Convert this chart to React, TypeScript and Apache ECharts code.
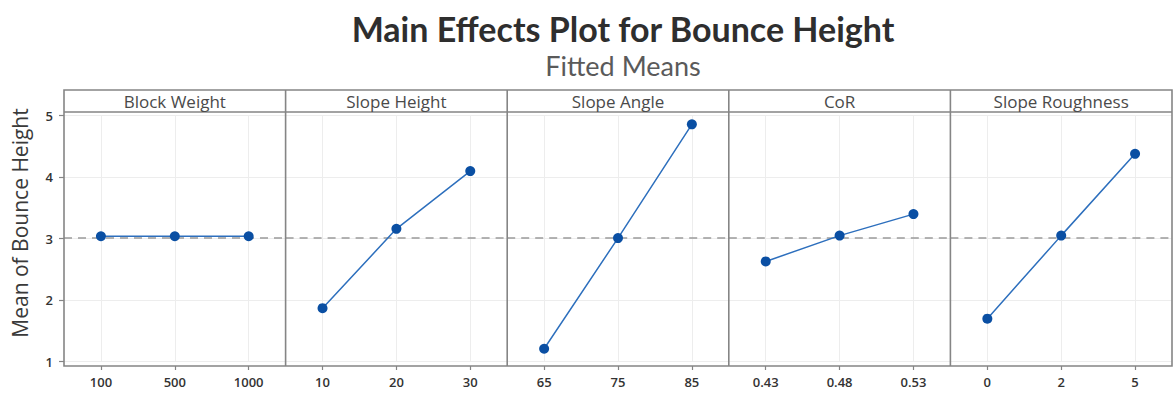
import React, { useEffect, useRef } from "react";
import * as echarts from "echarts";

const factors = ["Block Weight", "Slope Height", "Slope Angle", "CoR", "Slope Roughness"];
const levelsBlockWeight = ["100", "500", "1000"];
const levelsSlopeHeight = ["10", "20", "30"];
const levelsSlopeAngle = ["65", "75", "85"];
const levelsCoR = ["0.43", "0.48", "0.53"];
const levelsSlopeRoughness = ["0", "2", "5"];
const meansBlockWeight = [3.04, 3.04, 3.04];
const meansSlopeHeight = [1.87, 3.16, 4.1];
const meansSlopeAngle = [1.21, 3.01, 4.86];
const meansCoR = [2.63, 3.05, 3.4];
const meansSlopeRoughness = [1.7, 3.05, 4.38];
const overallMean = 3.02;
const yMin = 1;
const yMax = 5;
const yInterval = 1;

const levels = [levelsBlockWeight, levelsSlopeHeight, levelsSlopeAngle, levelsCoR, levelsSlopeRoughness];
const means = [meansBlockWeight, meansSlopeHeight, meansSlopeAngle, meansCoR, meansSlopeRoughness];

const W = 1175;
const H = 398;
const L = 64;
const R = 1172;
const PW = (R - L) / 5;
const HEAD_TOP = 90;
const HEAD_BOT = 112;
const FRAME_BOT = 366;
const Y_TOP = 115.7;
const Y_BOT = 361.7;
const FONT = "'Open Sans', 'Noto Sans', sans-serif";
const TITLE_FONT = "Lato, 'Open Sans', sans-serif";
const FRAME = "#858585";

export default function App() {
  const ref = useRef<HTMLDivElement>(null);
  useEffect(() => {
    if (!ref.current) return;
    const chart = echarts.init(ref.current, undefined, { renderer: "svg" });
    const grids = factors.map((_, i) => ({
      left: L + i * PW,
      width: PW,
      top: Y_TOP,
      height: Y_BOT - Y_TOP,
      show: false,
    }));
    const xAxes = factors.map((_, i) => ({
      type: "category",
      gridIndex: i,
      data: levels[i],
      boundaryGap: true,
      offset: FRAME_BOT - Y_BOT,
      axisLine: { show: false },
      axisTick: { show: true, alignWithLabel: true, length: 4, lineStyle: { color: FRAME, width: 1.2 } },
      axisLabel: { interval: 0, fontFamily: FONT, fontSize: 13, color: "#333", margin: 9, fontWeight: 600 },
      splitLine: { show: false },
    }));
    const yAxes = factors.map((_, i) => ({
      type: "value",
      gridIndex: i,
      min: yMin,
      max: yMax,
      interval: yInterval,
      axisLine: { show: false },
      axisTick: { show: i === 0, length: 5, lineStyle: { color: FRAME, width: 1.2 } },
      axisLabel: { show: i === 0, fontFamily: FONT, fontSize: 13, color: "#333", margin: 11, fontWeight: 600 },
      splitLine: { show: true, lineStyle: { color: "#ededed", width: 1 } },
    }));
    const series = factors.map((name, i) => ({
      type: "line",
      name,
      xAxisIndex: i,
      yAxisIndex: i,
      data: means[i],
      symbol: "circle",
      symbolSize: 10,
      lineStyle: { color: "#2d6fbd", width: 1.5 },
      itemStyle: { color: "#0a4fa3" },
      z: 3,
      markLine: {
        silent: true,
        symbol: "none",
        z: 1,
        label: { show: false },
        data: [
          ...levels[i].map((lv) => ({ xAxis: lv, lineStyle: { color: "#ededed", width: 1, type: "solid" } })),
          { yAxis: overallMean, lineStyle: { color: "#9a9a9a", width: 1.6, type: [8, 6] } },
        ],
      },
    }));
    const graphics: any[] = [
      {
        type: "rect",
        z: 50,
        shape: { x: L, y: HEAD_TOP, width: R - L, height: FRAME_BOT - HEAD_TOP },
        style: { fill: "none", stroke: FRAME, lineWidth: 1.6 },
      },
      {
        type: "line",
        z: 50,
        shape: { x1: L, y1: HEAD_BOT, x2: R, y2: HEAD_BOT },
        style: { stroke: FRAME, lineWidth: 1.6 },
      },
      ...[1, 2, 3, 4].map((i) => ({
        type: "line",
        z: 50,
        shape: { x1: L + i * PW, y1: HEAD_TOP, x2: L + i * PW, y2: FRAME_BOT },
        style: { stroke: FRAME, lineWidth: 1.6 },
      })),
      ...factors.map((f, i) => ({
        type: "text",
        z: 50,
        x: L + (i + 0.5) * PW,
        y: (HEAD_TOP + HEAD_BOT) / 2 + 0.5,
        style: {
          text: f,
          fontFamily: FONT,
          fontSize: 17,
          fill: "#4a4a4a",
          align: "center",
          verticalAlign: "middle",
        },
      })),
      {
        type: "text",
        z: 50,
        x: 20,
        y: 223,
        rotation: Math.PI / 2,
        style: {
          text: "Mean of Bounce Height",
          fontFamily: FONT,
          fontSize: 21,
          fill: "#3a3a3a",
          align: "center",
          verticalAlign: "middle",
        },
      },
    ];
    chart.setOption({
      animation: false,
      backgroundColor: "#ffffff",
      title: [
        {
          text: "Main Effects Plot for Bounce Height",
          left: 618,
          top: 6,
          textAlign: "center",
          textStyle: { fontFamily: TITLE_FONT, fontSize: 34, lineHeight: 34, fontWeight: "bold", color: "#2e2e2e" },
        },
        {
          text: "Fitted Means",
          left: 618,
          top: 46,
          textAlign: "center",
          textStyle: { fontFamily: TITLE_FONT, fontSize: 27, lineHeight: 28, fontWeight: "normal", color: "#5a5a5a" },
        },
      ],
      grid: grids,
      xAxis: xAxes,
      yAxis: yAxes,
      series,
      graphic: graphics,
    });
    return () => chart.dispose();
  }, []);
  return <div ref={ref} style={{ position: "fixed", left: 0, top: 0, width: W, height: H }} />;
}
